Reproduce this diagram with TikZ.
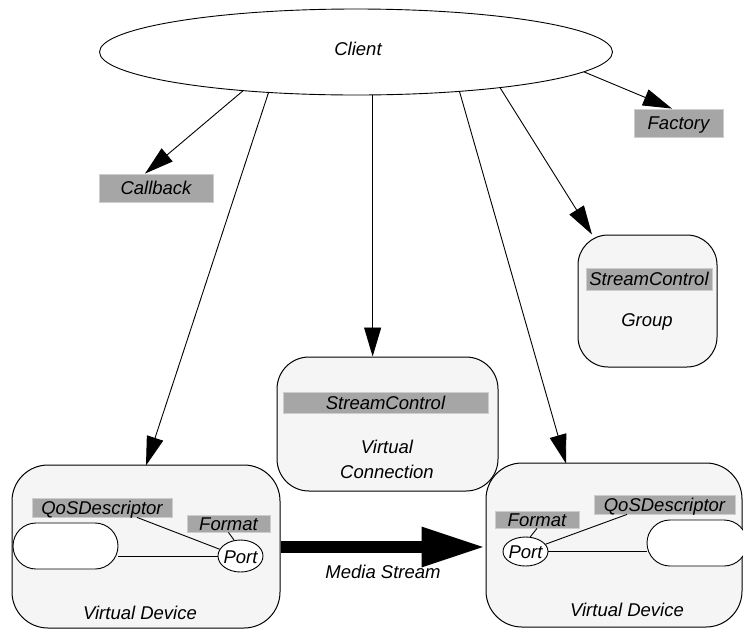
\documentclass[tikz,border=0pt]{standalone}
\usepackage{fontspec}
\setmainfont{Liberation Sans}
\usetikzlibrary{arrows.meta,shapes.geometric}
\definecolor{boxfill}{RGB}{245,245,245}
\definecolor{labfill}{RGB}{166,166,166}
\definecolor{labedge}{RGB}{205,205,205}
\tikzset{
  every node/.style={font=\fontsize{18.5pt}{25pt}\selectfont\itshape},
  conn/.style={line width=0.9pt, -{Triangle[length=29pt,width=17pt]}},
  plain/.style={line width=0.9pt},
  labelbox/.style={fill=labfill, draw=labedge, line width=0.8pt, inner sep=0pt, text height=13pt, text depth=0pt},
  roundbox/.style={fill=boxfill, draw=black, line width=1pt, inner sep=0pt},
  whitebox/.style={fill=white, draw=black, line width=0.9pt, inner sep=0pt},
}
\begin{document}
\begin{tikzpicture}[x=1pt,y=-1pt]
\path[use as bounding box] (0,0) rectangle (743,630);

% Client
\node[ellipse, draw, line width=0.9pt, fill=white, minimum width=513pt, minimum height=86pt, inner sep=0pt] (client) at (356,52) {};
\node (clientlabel) at (358,49) {Client};

% Callback and Factory
\node[labelbox, minimum width=114pt, minimum height=28pt] (callback) at (156,188) {Callback};
\node[labelbox, minimum width=89pt, minimum height=28pt] (factory) at (678.5,123) {Factory};

% Group
\node[roundbox, rounded corners=30pt, minimum width=139pt, minimum height=132pt] (group) at (647.5,301) {};
\node[labelbox, minimum width=126pt, minimum height=22pt] (groupsc) at (649,279) {StreamControl};
\node (grouptext) at (647,322) {Group};

% Virtual Connection
\node[roundbox, rounded corners=32pt, minimum width=221pt, minimum height=134pt] (vc) at (387.5,424) {};
\node[labelbox, minimum width=205pt, minimum height=21pt] (vcsc) at (385.5,402.5) {StreamControl};
\node[align=center] (vctext) at (387,459) {Virtual\\Connection};

% Left Virtual Device
\node[roundbox, rounded corners=36pt, minimum width=268pt, minimum height=163pt] (vdl) at (146,546.5) {};
\node[labelbox, minimum width=140pt, minimum height=19pt] (qosl) at (102,507.5) {QoSDescriptor};
\node[labelbox, minimum width=83pt, minimum height=17pt] (fmtl) at (228.5,523.5) {Format};
\node[whitebox, rounded corners=23pt, minimum width=105pt, minimum height=46pt] (pilll) at (65.5,546) {};
\node[whitebox, ellipse, minimum width=45pt, minimum height=32pt] (portl) at (240.5,556) {};
\node (portltext) at (240.5,557) {Port};
\node (vdltext) at (140,613) {Virtual Device};
\draw[plain] (portl.west) -- (portl.west -| pilll.east);
\draw[plain] ([xshift=35pt]qosl.south) -- (portl.162);
\draw[plain] (fmtl.south) -- (portl.112);

% Right Virtual Device
\node[roundbox, rounded corners=36pt, minimum width=256pt, minimum height=164pt] (vdr) at (614,545) {};
\node[labelbox, minimum width=141pt, minimum height=19pt] (qosr) at (664.5,504.5) {QoSDescriptor};
\node[labelbox, minimum width=84pt, minimum height=17pt] (fmtr) at (537,519.5) {Format};
\node[whitebox, rounded corners=23pt, minimum width=100pt, minimum height=46pt] (pillr) at (697,543) {};
\node[whitebox, ellipse, minimum width=45pt, minimum height=29pt] (portr) at (525.5,551.5) {};
\node (portrtext) at (525.5,552.5) {Port};
\node (vdrtext) at (627,610) {Virtual Device};
\draw[plain] (portr.east) -- (portr.east -| pillr.west);
\draw[plain] ([xshift=-37.5pt]qosr.south) -- (portr.20);
\draw[plain] (fmtr.south) -- (portr.72);

% Connectors from Client
\draw[conn] (client.199.8) -- ([xshift=-11pt]callback.north);
\draw[conn] (client.355.4) -- ([xshift=-6.5pt]factory.north);
\draw[conn] (client.205.2) -- ([yshift=-1pt]vdl.north);
\draw[conn] (client.291.6) -- (client.291.6 |- vc.north);
\draw[conn] (client.339.5) -- ([xshift=-48pt,yshift=-1pt]vdr.north);
\draw[conn] (client.346.5) -- ([xshift=-55.5pt]group.north);

% Media stream
\draw[line width=12pt, -{Triangle[length=64pt,width=37pt]}] ([yshift=-0.5pt]vdl.east) -- ([yshift=-0.5pt]vdl.east -| vdr.west);
\node (media) at (383,572) {Media Stream};
\end{tikzpicture}
\end{document}
